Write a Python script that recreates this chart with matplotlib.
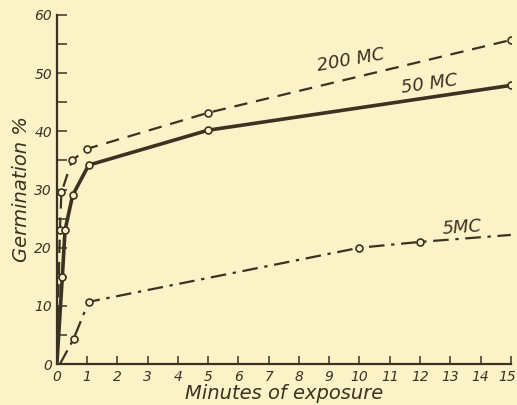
import numpy as np
import matplotlib.pyplot as plt

# minutes of exposure vs germination %
x200 = [0, 0.1, 0.15, 0.5, 1, 5, 15]
y200 = [0, 23, 29.5, 35, 37, 43.2, 55.7]
x50 = [0, 0.18, 0.27, 0.52, 1.05, 5, 15]
y50 = [0, 15, 23, 29, 34.2, 40.2, 47.9]
x5 = [0.1, 0.55, 1.05, 10, 12, 15]
y5 = [0, 4.3, 10.7, 20, 21, 22.2]
xticks = list(range(0, 16))
xlabels = [str(t) for t in xticks]

bg = '#fbf2c8'
ink = '#3b3222'

plt.rcParams['font.family'] = 'DejaVu Sans'
plt.rcParams['font.style'] = 'italic'

fig = plt.figure(figsize=(5.17, 4.05), dpi=100, facecolor=bg)
ax = fig.add_axes([0.110, 0.101, 0.878, 0.862], facecolor=bg)

mk = dict(marker='o', markersize=5, markerfacecolor=bg, markeredgecolor=ink, markeredgewidth=1.2)
ax.plot(x200, y200, color=ink, lw=1.6, ls=(0, (6, 4)), markevery=list(range(1, 7)), **mk)
ax.plot(x50, y50, color=ink, lw=2.6, markevery=list(range(1, 7)), **mk)
ax.plot(x5, y5, color=ink, lw=1.6, ls=(0, (7, 3, 1.5, 3)), markevery=[1, 2, 3, 4], **mk)

ax.text(9.7, 52.3, '200 MC', rotation=10, fontsize=13, color=ink, ha='center', va='center')
ax.text(12.3, 48.2, '50 MC', rotation=8, fontsize=13, color=ink, ha='center', va='center')
ax.text(13.4, 23.4, '5MC', rotation=4, fontsize=13, color=ink, ha='center', va='center')

ax.set_xlim(0, 15)
ax.set_ylim(0, 60)
ax.spines['top'].set_visible(False)
ax.spines['right'].set_visible(False)
for s in ('left', 'bottom'):
    ax.spines[s].set_color(ink)
    ax.spines[s].set_linewidth(1.6)

ax.set_xticks(xticks)
ax.set_xticklabels(xlabels[:-1] + [''])
# last label sits at the figure edge, nudge it in a little
ax.annotate(xlabels[-1], xy=(xticks[-1], 0), xytext=(-2.5, -4), textcoords='offset points',
            ha='center', va='top', fontsize=10, color=ink, annotation_clip=False)
ax.set_yticks(range(0, 61, 10))
ax.set_yticks(range(5, 60, 10), minor=True)
ax.tick_params(axis='x', direction='in', length=6, width=1.1, color=ink, labelcolor=ink,
               labelsize=10, pad=4)
ax.tick_params(axis='y', which='both', direction='in', length=7, width=1.1, color=ink,
               labelcolor=ink, labelsize=10)

ax.set_xlabel('Minutes of exposure', fontsize=14, color=ink, labelpad=0)
ax.set_ylabel('Germination %', fontsize=14, color=ink, labelpad=2)

fig.savefig('out.png', dpi=100, facecolor=bg)
